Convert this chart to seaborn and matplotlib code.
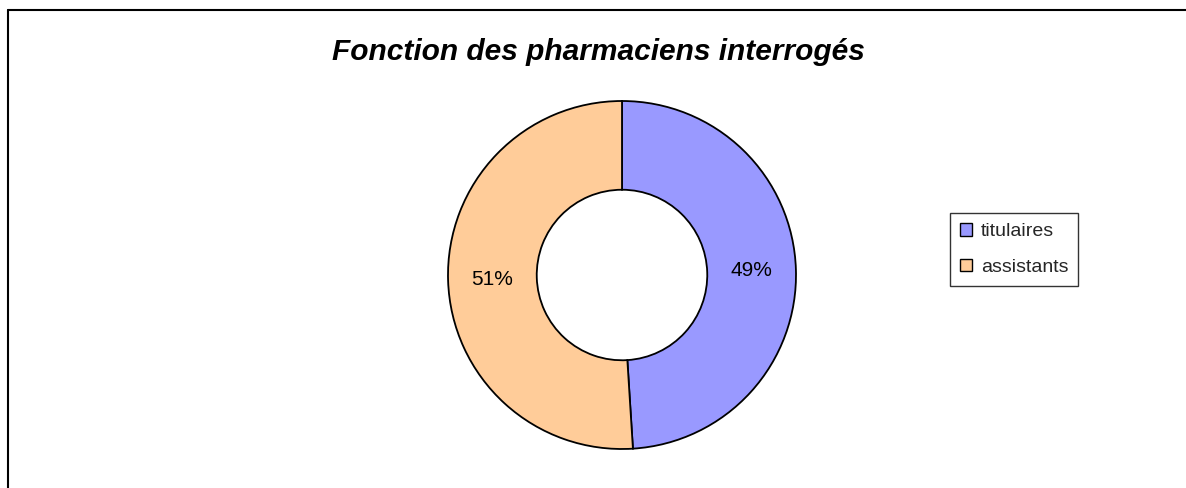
import matplotlib
matplotlib.use("Agg")
import matplotlib.pyplot as plt
import seaborn as sns
from matplotlib.patches import Patch
from matplotlib.lines import Line2D

categories = ["titulaires", "assistants"]
values = [49, 51]
colors = ["#9999FF", "#FFCC99"]
title = "Fonction des pharmaciens interrogés"

sns.set_theme(style="white")
plt.rcParams['font.family'] = ['Liberation Sans', 'DejaVu Sans']

W, H = 1186, 488
fig = plt.figure(figsize=(W / 100, H / 100), dpi=100)
fig.patch.set_facecolor("white")

cx, cy, R = 622, 275, 174
ax = fig.add_axes([(cx - R) / W, (H - cy - R) / H, 2 * R / W, 2 * R / H])
wedges, texts, autotexts = ax.pie(
    values, colors=colors, startangle=90, counterclock=False,
    radius=1.0, autopct="%d%%", pctdistance=0.745,
    wedgeprops=dict(width=0.51, edgecolor="black", linewidth=1.3),
    textprops=dict(fontsize=15, color="black"),
)
ax.set_xlim(-1, 1)
ax.set_ylim(-1, 1)
ax.set_aspect("equal")
ax.axis("off")

fig.text(598 / W, 1 - 52 / H, title, ha="center", va="center",
         fontsize=21.5, fontweight="bold", fontstyle="italic", color="black")

handles = [Patch(facecolor=c, edgecolor="black", linewidth=1.0) for c in colors]
leg = fig.legend(handles, categories, loc="upper left",
                 bbox_to_anchor=(950 / W, 1 - 213 / H), borderaxespad=0,
                 fontsize=14, frameon=True, fancybox=False,
                 handlelength=0.65, handleheight=0.65, handletextpad=0.45,
                 labelspacing=0.95, borderpad=0.5)
leg.get_frame().set_edgecolor("black")
leg.get_frame().set_linewidth(1.0)

# outer chart frame
fig.add_artist(Line2D([8 / W, 8 / W], [0, 1 - 10 / H], transform=fig.transFigure,
                      color="black", linewidth=1.5))
fig.add_artist(Line2D([8 / W, 1], [1 - 10 / H, 1 - 10 / H], transform=fig.transFigure,
                      color="black", linewidth=1.5))

fig.savefig("out.png", dpi=100, facecolor="white")
